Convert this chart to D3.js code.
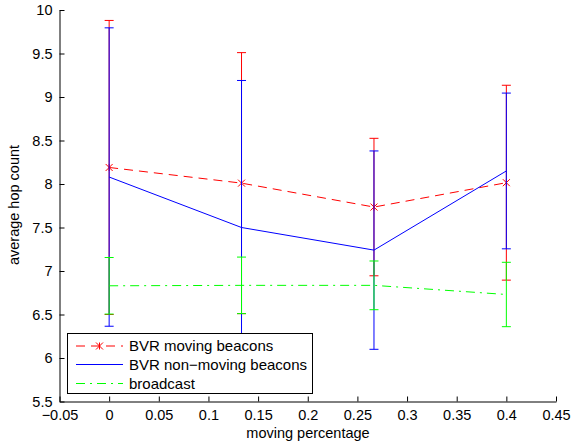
<!DOCTYPE html>
<html>
<head>
<meta charset="utf-8">
<script src="https://cdn.jsdelivr.net/npm/d3@7"></script>
<style>
  html, body { margin: 0; padding: 0; background: #fff; }
  svg { display: block; font-family: "Liberation Sans", Arial, sans-serif; }
</style>
</head>
<body>
<svg id="chart" width="579" height="445"></svg>
<script>
// Moving percentage of beacons (x positions)
const movingPct = [0, 0.1333, 0.2667, 0.4];

// Average hop count and error-bar half widths per scheme
const bvrMoving = [8.19, 8.01, 7.735, 8.015];
const bvrMovingErr = [1.69, 1.50, 0.79, 1.12];
const bvrStatic = [8.08, 7.50, 7.24, 8.15];
const bvrStaticErr = [1.715, 1.69, 1.14, 0.895];
const broadcast = [6.83, 6.835, 6.835, 6.73];
const broadcastErr = [0.325, 0.325, 0.28, 0.37];

const xTicks = [-0.05, 0, 0.05, 0.1, 0.15, 0.2, 0.25, 0.3, 0.35, 0.4, 0.45];
const yTicks = [5.5, 6, 6.5, 7, 7.5, 8, 8.5, 9, 9.5, 10];

const seriesNames = ["BVR moving beacons", "BVR non\u2212moving beacons", "broadcast"];

const svg = d3.select("#chart");

const x = d3.scaleLinear().domain([-0.05, 0.45]).range([59.5, 556]);
const y = d3.scaleLinear().domain([5.5, 10]).range([401.5, 10]);

const fontSize = "14.5px";

// Series definitions (values come from the arrays above)
const series = [
  { name: seriesNames[0], vals: bvrMoving, err: bvrMovingErr, color: "#ff0000", dash: "9,6", marker: true },
  { name: seriesNames[1], vals: bvrStatic, err: bvrStaticErr, color: "#0000ff", dash: null, marker: false },
  { name: seriesNames[2], vals: broadcast, err: broadcastErr, color: "#00ff00", dash: "9,5,2,5", marker: false }
];

const plot = svg.append("g");

series.forEach(s => {
  const pts = movingPct.map((p, i) => ({ p, v: s.vals[i], e: s.err[i] }));

  // error bars
  const eb = plot.append("g").attr("stroke", s.color).attr("stroke-width", 1).attr("fill", "none");
  pts.forEach(d => {
    const cx = x(d.p);
    eb.append("line").attr("x1", cx).attr("x2", cx).attr("y1", y(d.v - d.e)).attr("y2", y(d.v + d.e));
    eb.append("line").attr("x1", cx - 4.5).attr("x2", cx + 4.5).attr("y1", y(d.v + d.e)).attr("y2", y(d.v + d.e));
    eb.append("line").attr("x1", cx - 4.5).attr("x2", cx + 4.5).attr("y1", y(d.v - d.e)).attr("y2", y(d.v - d.e));
  });

  // connecting line
  const line = d3.line().x(d => x(d.p)).y(d => y(d.v));
  plot.append("path")
    .datum(pts)
    .attr("d", line)
    .attr("fill", "none")
    .attr("stroke", s.color)
    .attr("stroke-width", 1)
    .attr("stroke-dasharray", s.dash);

  if (s.marker) {
    pts.forEach(d => drawStar(plot, x(d.p), y(d.v), s.color));
  }
});

function drawStar(g, cx, cy, color) {
  const r = 3.5;
  const m = g.append("g").attr("stroke", color).attr("stroke-width", 1);
  m.append("line").attr("x1", cx - r).attr("x2", cx + r).attr("y1", cy - r).attr("y2", cy + r);
  m.append("line").attr("x1", cx - r).attr("x2", cx + r).attr("y1", cy + r).attr("y2", cy - r);
  m.append("line").attr("x1", cx).attr("x2", cx).attr("y1", cy - r).attr("y2", cy + r);
}

// axes (ticks pointing inward, no box)
const fmt = d3.format("");
const xAxis = d3.axisBottom(x).tickValues(xTicks).tickSizeInner(-5).tickSizeOuter(0).tickPadding(8)
  .tickFormat(d => d3.format(".2~f")(d).replace("-", "\u2212"));
const yAxis = d3.axisLeft(y).tickValues(yTicks).tickSizeInner(-5).tickSizeOuter(0).tickPadding(7)
  .tickFormat(d => d3.format(".1~f")(d));

const gx = svg.append("g").attr("transform", `translate(0,${y(5.5)})`).call(xAxis);
const gy = svg.append("g").attr("transform", `translate(${x(-0.05)},0)`).call(yAxis);

[gx, gy].forEach(g => {
  g.selectAll("text").attr("font-size", fontSize).attr("fill", "#000")
    .attr("font-family", "'Liberation Sans', Arial, sans-serif");
  g.selectAll("path.domain").attr("stroke", "#000");
  g.selectAll(".tick line").attr("stroke", "#000");
});

// axis titles
svg.append("text")
  .attr("x", 308).attr("y", 438)
  .attr("text-anchor", "middle")
  .attr("font-size", fontSize)
  .text("moving percentage");

svg.append("text")
  .attr("transform", "translate(19,205) rotate(-90)")
  .attr("text-anchor", "middle")
  .attr("font-size", fontSize)
  .text("average hop count");

// legend
const lg = svg.append("g");
lg.append("rect")
  .attr("x", 67.5).attr("y", 333.5).attr("width", 245).attr("height", 60)
  .attr("fill", "#fff").attr("stroke", "#000").attr("stroke-width", 1);

const rowY = [346, 364.5, 383.5];
series.forEach((s, i) => {
  const ry = rowY[i];
  lg.append("line")
    .attr("x1", 76).attr("x2", 123).attr("y1", ry).attr("y2", ry)
    .attr("stroke", s.color).attr("stroke-width", 1)
    .attr("stroke-dasharray", s.dash);
  if (s.marker) drawStar(lg, 99.5, ry, s.color);
  lg.append("text")
    .attr("x", 129).attr("y", ry).attr("dy", "0.35em")
    .attr("font-size", "15px")
    .text(s.name);
});
</script>
</body>
</html>
